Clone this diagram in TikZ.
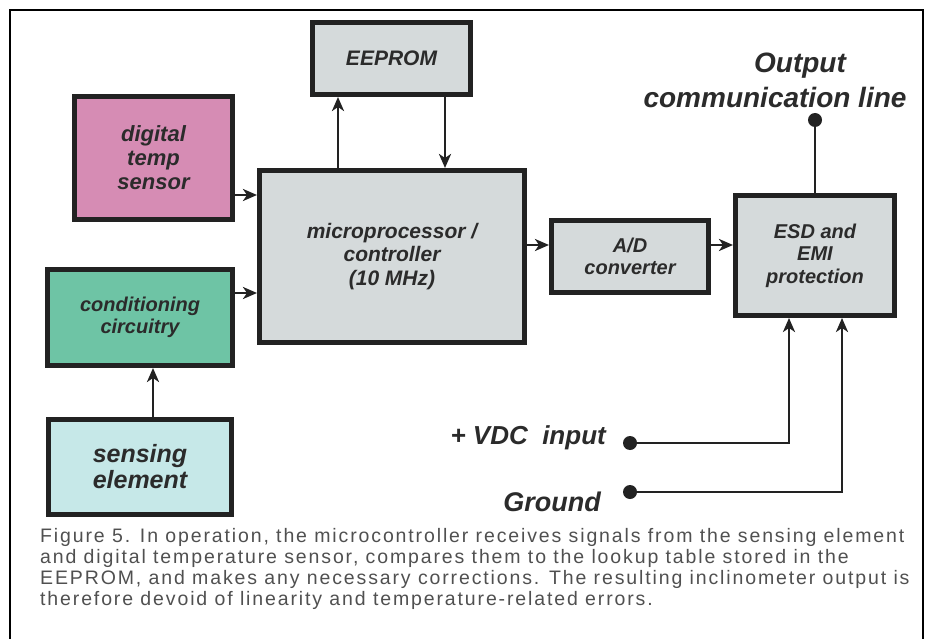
\documentclass[tikz,border=0pt]{standalone}
\usepackage{fontspec}
\setmainfont{Liberation Sans}
\newfontfamily\capfont[LetterSpace=9.6]{Liberation Sans}
\usetikzlibrary{arrows.meta,calc}
\definecolor{boxgray}{HTML}{D5DADB}
\definecolor{pinkbox}{HTML}{D68CB4}
\definecolor{greenbox}{HTML}{6EC4A5}
\definecolor{cyanbox}{HTML}{C6E8E8}
\definecolor{edge}{HTML}{222222}
\definecolor{txt}{HTML}{2B2B2B}
\definecolor{captxt}{HTML}{505050}
\newcommand{\fsz}[2]{\bfseries\itshape\fontsize{#1}{#2}\selectfont}
\begin{document}
\begin{tikzpicture}[x=1pt,y=-1pt,
  blk/.style={draw=edge,line width=5pt,fill=boxgray,align=center,text=txt,inner sep=0pt},
  arr/.style={draw=edge,line width=2.5pt,-{Stealth[length=14pt,width=12pt,inset=4pt]}},
  wire/.style={draw=edge,line width=2.5pt},
  dotnode/.style={circle,fill=edge,inner sep=0pt,minimum size=14pt},
  lbl/.style={text=txt,inner sep=0pt},
  capline/.style={font=\capfont\fontsize{19.5}{21}\selectfont,text=captxt,anchor=base west,inner sep=0pt}]
\useasboundingbox (0,0) rectangle (931,639);
\fill[white] (0,0) rectangle (931,639);
\draw[line width=1.5pt] (10,660) -- (10,10) -- (923,10) -- (923,660);

\node[blk,minimum width=158pt,minimum height=72pt,font=\fsz{21}{23}] (eeprom) at (391.5,58.5) {EEPROM};
\node[blk,fill=pinkbox,minimum width=158pt,minimum height=123pt,font=\fsz{22}{24}] (temp) at (153.5,158) {digital\\temp\\sensor};
\node[blk,minimum width=265pt,minimum height=172pt,font=\fsz{21}{23.5}] (micro) at (392,256.5) {microprocessor /\\controller\\(10 MHz)};
\node[blk,fill=greenbox,minimum width=185pt,minimum height=96pt,font=\fsz{20}{22.5}] (cond) at (140,317.5) {conditioning\\circuitry};
\node[blk,fill=cyanbox,minimum width=183pt,minimum height=95pt,font=\fsz{25}{26}] (sens) at (140,467) {sensing\\element};
\node[blk,minimum width=157pt,minimum height=72pt,font=\fsz{20}{22}] (ad) at (630,256.5) {A/D\\converter};
\node[blk,minimum width=159pt,minimum height=120pt,font=\fsz{20}{22.5}] (esd) at (815,255.5) {ESD and\\EMI\\protection};

\node[dotnode] (outdot) at (815,120) {};
\node[dotnode] (vdcdot) at (630,443) {};
\node[dotnode] (gnddot) at (630,492) {};

\node[lbl,font=\fsz{28}{30}] (outl1) at (800,66) {Output};
\node[lbl,font=\fsz{28}{30}] (outl2) at (775,97) {communication line};
\node[lbl,font=\fsz{26}{28},anchor=east] (vdcl) at (606,438) {+ VDC\ \ input};
\node[lbl,font=\fsz{27}{29},anchor=east] (gndl) at (601,502) {Ground};

\coordinate (t1) at ($(temp.east)+(0,37)$);
\coordinate (c1) at ($(cond.east)+(0,-24.5)$);
\coordinate (m1) at ($(micro.north)+(-54,0)$);
\coordinate (e1) at ($(eeprom.south)+(53.5,0)$);
\coordinate (m2) at ($(micro.east)+(0,-11.5)$);
\coordinate (a2) at ($(ad.east)+(0,-11.5)$);
\coordinate (s1) at ($(sens.north)+(13,0)$);
\coordinate (v1) at ($(esd.south)+(-26,0)$);
\coordinate (g1) at ($(esd.south)+(27,0)$);

\draw[arr] (t1) -- (micro.west |- t1);
\draw[arr] (c1) -- (micro.west |- c1);
\draw[arr] (m1) -- (eeprom.south -| m1);
\draw[arr] (e1) -- (micro.north -| e1);
\draw[arr] (m2) -- (ad.west |- m2);
\draw[arr] (a2) -- (esd.west |- a2);
\draw[arr] (s1) -- (cond.south -| s1);
\draw[wire] (esd.north) -- (outdot);
\draw[arr] (vdcdot.center) -| (v1);
\draw[arr] (gnddot.center) -| (g1);

\node[capline] (cap1) at (40,542) {Figure 5. In operation, the microcontroller receives signals from the sensing element};
\node[capline] (cap2) at (40,563) {and digital temperature sensor, compares them to the lookup table stored in the};
\node[capline] (cap3) at (40,584) {EEPROM, and makes any necessary corrections. The resulting inclinometer output is};
\node[capline] (cap4) at (40,605) {therefore devoid of linearity and temperature-related errors.};
\end{tikzpicture}
\end{document}
